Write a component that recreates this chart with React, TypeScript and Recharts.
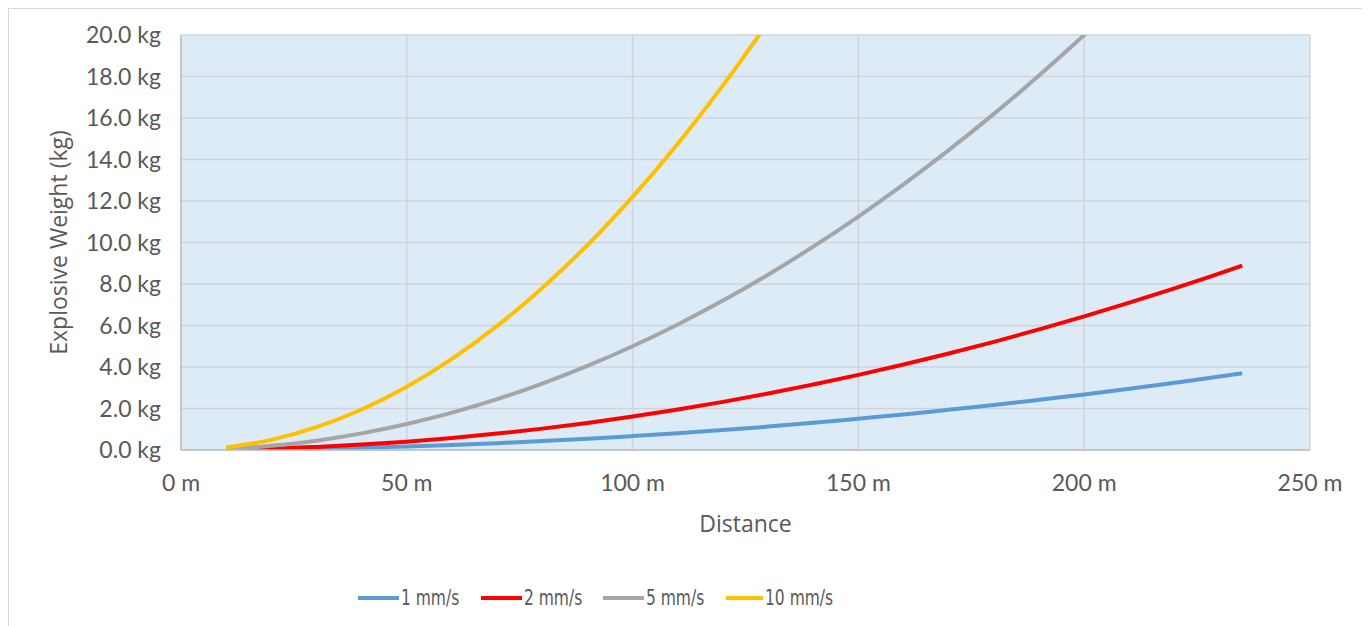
import { LineChart, Line, XAxis, YAxis, CartesianGrid, Legend } from 'recharts';

// distance in metres
const distances = [10, 20, 30, 40, 50, 60, 70, 80, 90, 100, 110, 120, 130, 140, 150, 160, 170, 180, 190, 200, 210, 220, 230, 235];

// explosive weight (kg) for each PPV curve
const ppv1 = [0.01, 0.03, 0.06, 0.11, 0.17, 0.24, 0.33, 0.43, 0.54, 0.67, 0.81, 0.96, 1.13, 1.31, 1.51, 1.71, 1.94, 2.17, 2.42, 2.68, 2.95, 3.24, 3.54, 3.7];
const ppv2 = [0.02, 0.06, 0.15, 0.26, 0.4, 0.58, 0.79, 1.03, 1.3, 1.61, 1.95, 2.32, 2.72, 3.16, 3.62, 4.12, 4.65, 5.21, 5.81, 6.44, 7.1, 7.79, 8.51, 8.89];
const ppv5 = [0.05, 0.2, 0.45, 0.8, 1.25, 1.8, 2.45, 3.2, 4.05, 5.0, 6.05, 7.2, 8.45, 9.8, 11.25, 12.8, 14.45, 16.2, 18.05, 20.0, 22.05];
const ppv10 = [0.12, 0.49, 1.1, 1.95, 3.05, 4.39, 5.98, 7.81, 9.88, 12.2, 14.76, 17.57, 20.6];

const xTicks = [0, 50, 100, 150, 200, 250];
const yTicks = [0, 2, 4, 6, 8, 10, 12, 14, 16, 18, 20];

const series = [
  { key: 'v1', name: '1 mm/s', color: '#5B9BD5' },
  { key: 'v2', name: '2 mm/s', color: '#FF0000' },
  { key: 'v5', name: '5 mm/s', color: '#A5A5A5' },
  { key: 'v10', name: '10 mm/s', color: '#FFC000' },
];

const data = distances.map((d, i) => ({
  distance: d,
  v1: ppv1[i],
  v2: ppv2[i],
  v5: ppv5[i],
  v10: ppv10[i],
}));

const textColor = '#595959';
const tickFont = { fontFamily: 'Lato, sans-serif', fontSize: 23, fill: textColor };

const YTitle = ({ viewBox }: any) => {
  const x = viewBox.x + 58;
  const y = viewBox.y + viewBox.height / 2;
  return (
    <text x={x} y={y} transform={`rotate(-90, ${x}, ${y})`} textAnchor="middle"
      fontFamily="'Open Sans', sans-serif" fontSize={23} fill={textColor}>
      Explosive Weight (kg)
    </text>
  );
};

const XTitle = ({ viewBox }: any) => (
  <text x={viewBox.x + viewBox.width / 2} y={523} textAnchor="middle"
    fontFamily="'Open Sans', sans-serif" fontSize={23} fill={textColor}>
    Distance
  </text>
);

// Excel-style legend: short swatch + condensed label
const LegendContent = () => (
  <div style={{ display: 'flex', alignItems: 'center', paddingLeft: 349, height: 30 }}>
    {series.map((s) => (
      <div key={s.key} style={{ display: 'flex', alignItems: 'center', width: 122.5 }}>
        <span style={{ display: 'inline-block', width: 41, height: 4, background: s.color, marginRight: 2 }} />
        <span style={{
          display: 'inline-block', whiteSpace: 'nowrap', transform: 'scaleX(0.82)', transformOrigin: 'left center',
          fontFamily: "'DejaVu Sans Condensed', sans-serif", fontSize: 21, color: textColor,
        }}>
          {s.name}
        </span>
      </div>
    ))}
  </div>
);

export default function App() {
  return (
    <div style={{ width: 1362, height: 618, borderTop: '1px solid #D9D9D9', borderLeft: '1px solid #D9D9D9', background: '#fff' }}>
      <LineChart width={1354} height={610} data={data} margin={{ top: 26, right: 53, bottom: 6, left: 0 }}>
        <CartesianGrid stroke="#D0D4DA" strokeWidth={1.5} fill="#DDEBF7" fillOpacity={1} />
        <XAxis
          dataKey="distance"
          type="number"
          domain={[0, 250]}
          ticks={xTicks}
          tickFormatter={(v) => `${v} m`}
          height={133}
          tickSize={0}
          tickMargin={25}
          tick={tickFont}
          axisLine={{ stroke: '#BFBFBF', strokeWidth: 1.5 }}
          label={<XTitle />}
        />
        <YAxis
          type="number"
          domain={[0, 20]}
          ticks={yTicks}
          allowDataOverflow
          tickFormatter={(v) => `${v.toFixed(1)} kg`}
          width={172}
          tickSize={0}
          tickMargin={20}
          tick={tickFont}
          axisLine={{ stroke: '#BFBFBF', strokeWidth: 1.5 }}
          label={<YTitle />}
        />
        <Legend verticalAlign="bottom" content={<LegendContent />} />
        {series.map((s) => (
          <Line
            key={s.key}
            type="monotone"
            dataKey={s.key}
            name={s.name}
            stroke={s.color}
            strokeWidth={4}
            dot={false}
            activeDot={false}
            isAnimationActive={false}
          />
        ))}
      </LineChart>
    </div>
  );
}
